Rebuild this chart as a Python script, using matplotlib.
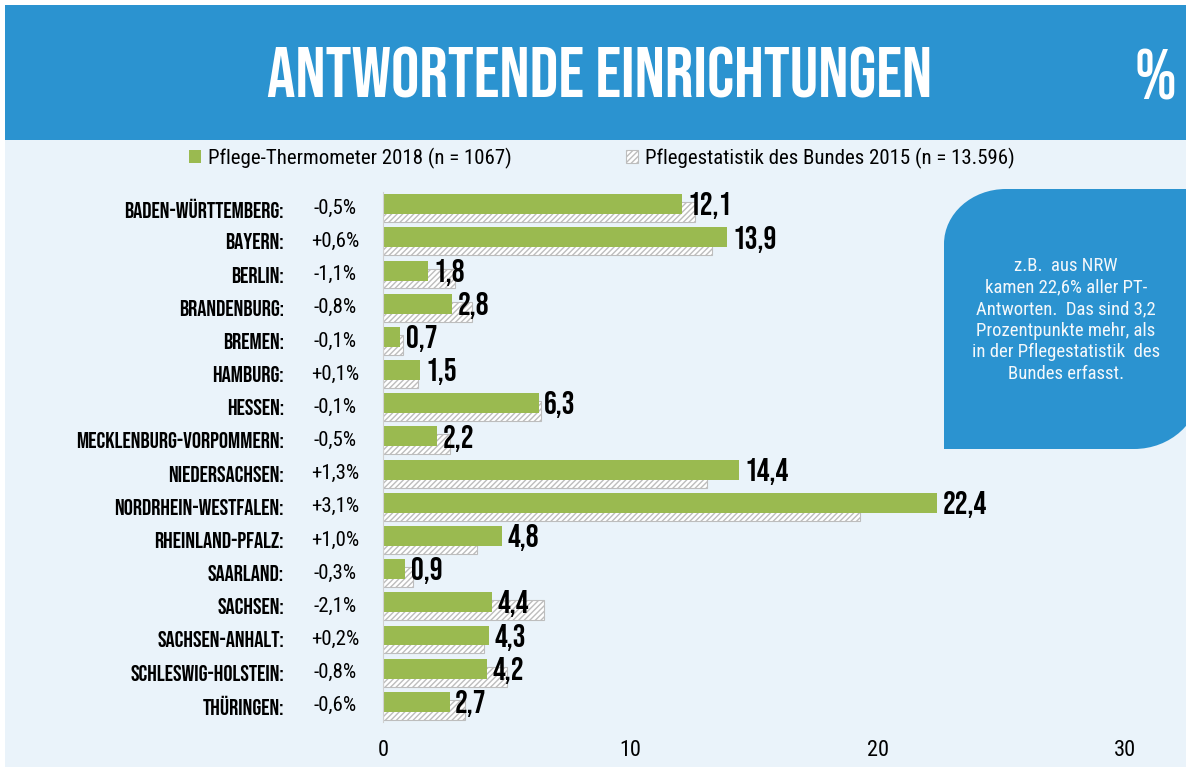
import numpy as np
import matplotlib.pyplot as plt
from matplotlib.patches import Rectangle, PathPatch
from matplotlib.path import Path
from matplotlib import font_manager

# data
states = ["BADEN-WÜRTTEMBERG", "BAYERN", "BERLIN", "BRANDENBURG", "BREMEN", "HAMBURG",
          "HESSEN", "MECKLENBURG-VORPOMMERN", "NIEDERSACHSEN", "NORDRHEIN-WESTFALEN",
          "RHEINLAND-PFALZ", "SAARLAND", "SACHSEN", "SACHSEN-ANHALT",
          "SCHLESWIG-HOLSTEIN", "THÜRINGEN"]
pt_2018 = [12.1, 13.9, 1.8, 2.8, 0.7, 1.5, 6.3, 2.2, 14.4, 22.4, 4.8, 0.9, 4.4, 4.3, 4.2, 2.7]
stat_2015 = [12.6, 13.3, 2.9, 3.6, 0.8, 1.4, 6.4, 2.7, 13.1, 19.3, 3.8, 1.2, 6.5, 4.1, 5.0, 3.3]
diffs = ["-0,5%", "+0,6%", "-1,1%", "-0,8%", "-0,1%", "+0,1%", "-0,1%", "-0,5%", "+1,3%",
         "+3,1%", "+1,0%", "-0,3%", "-2,1%", "+0,2%", "-0,8%", "-0,6%"]
xticks = [0, 10, 20, 30]

installed = {f.name for f in font_manager.fontManager.ttflist}

def fam(*names):
    # keep only installed families, always end with DejaVu Sans
    return [n for n in names if n in installed] + ["DejaVu Sans"]

HEAD = fam("Bebas Neue", "Oswald", "Open Sans Condensed")
NARROW = fam("Roboto Condensed", "Archivo Narrow", "PT Sans Narrow", "Open Sans Condensed")

blue = "#2b93d0"
green = "#9aba50"
bg = "#eaf3fa"

W, H = 1186, 767
fig = plt.figure(figsize=(W / 100, H / 100), dpi=100)
fig.patch.set_facecolor("white")

def fx(x):
    return x / W

def fy(y):
    return 1 - y / H

# page background and header band
fig.add_artist(Rectangle((fx(5), 0), 1 - fx(5), fy(140), transform=fig.transFigure,
                         facecolor=bg, edgecolor="none", zorder=0))
fig.add_artist(Rectangle((fx(5), fy(140)), 1 - fx(5), fy(5) - fy(140), transform=fig.transFigure,
                         facecolor=blue, edgecolor="none", zorder=0))
fig.text(fx(600), fy(72), "ANTWORTENDE EINRICHTUNGEN", color="white", fontsize=51,
         family=HEAD, ha="center", va="center")
fig.text(fx(1155), fy(74), "%", color="white", fontsize=51, family=HEAD,
         ha="center", va="center")

# blue info bubble (rounded top-left and bottom-right)
x0, x1, y0, y1 = fx(944), fx(1200), fy(189), fy(449)
r1x, r1y = 62 / W, 55 / H
r2x, r2y = 66 / W, 60 / H
k = 0.5523
verts = [(x0, y1), (x0, y0 - r1y), (x0, y0 - r1y + k * r1y), (x0 + r1x - k * r1x, y0), (x0 + r1x, y0),
         (x1, y0), (x1, y1 + r2y), (x1, y1 + r2y - k * r2y), (x1 - r2x + k * r2x, y1), (x1 - r2x, y1),
         (x0, y1)]
codes = [Path.MOVETO, Path.LINETO, Path.CURVE4, Path.CURVE4, Path.CURVE4,
         Path.LINETO, Path.LINETO, Path.CURVE4, Path.CURVE4, Path.CURVE4, Path.CLOSEPOLY]
fig.add_artist(PathPatch(Path(verts, codes), transform=fig.transFigure,
                         facecolor=blue, edgecolor="none", zorder=1))
fig.text(fx(1066), fy(320), "z.B.  aus NRW\nkamen 22,6% aller PT-\nAntworten.  Das sind 3,2\n"
         "Prozentpunkte mehr, als\nin der Pflegestatistik  des\nBundes erfasst.",
         color="#f4f8fb", fontsize=13.5, family=NARROW, ha="center", va="center",
         linespacing=1.25, zorder=2)

# bar chart
ax = fig.add_axes([fx(383), fy(729), fx(1125) - fx(383), fy(185) - fy(729)])
ax.set_facecolor("none")
y = np.arange(len(states))
h = 0.6
off = 0.12
b2 = ax.barh(y + off, stat_2015, height=h, facecolor="white", edgecolor="#bdbdbd",
             hatch="//////", linewidth=0.8, label="Pflegestatistik des Bundes 2015 (n = 13.596)")
b1 = ax.barh(y - off, pt_2018, height=h, color=green, label="Pflege-Thermometer 2018 (n = 1067)")

for yi, v, name, d in zip(y, pt_2018, states, diffs):
    ax.text(v + 0.22, yi - off + 0.05, f"{v:.1f}".replace(".", ","), fontsize=23,
            family=HEAD, ha="left", va="center")
    ax.text(-4.0, yi, name + ":", fontsize=16.5, family=HEAD,
            ha="right", va="center", clip_on=False)
    ax.text(-1.95, yi, d, fontsize=15, family=NARROW, ha="center", va="center", clip_on=False)

ax.set_xlim(0, 30)
ax.set_ylim(15.7, -0.7)
ax.set_yticks([])
ax.set_xticks(xticks)
ax.set_xticklabels([str(t) for t in xticks], fontsize=16, family=NARROW)
ax.tick_params(axis="x", length=0, pad=8)
for s in ["top", "right", "bottom"]:
    ax.spines[s].set_visible(False)
ax.spines["left"].set_color("#d0d0d0")
ax.spines["left"].set_bounds(-0.5, 15.5)

fig.legend(handles=[b1, b2], loc="center left", bbox_to_anchor=(fx(170), fy(158)), ncol=2,
           frameon=False, prop={"family": NARROW, "size": 15}, handlelength=0.6,
           handleheight=0.6, handletextpad=0.3, columnspacing=5.5)

fig.savefig("out.png", dpi=100, facecolor=fig.get_facecolor())
